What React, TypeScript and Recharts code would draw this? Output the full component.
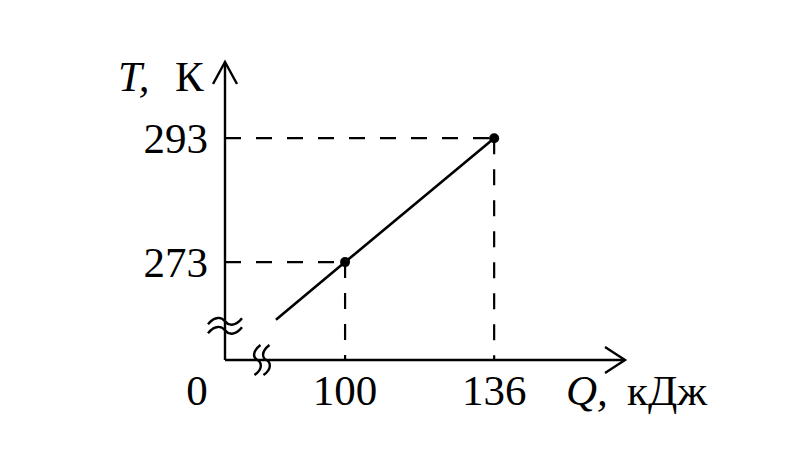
import { LineChart, Line, XAxis, YAxis, ReferenceLine, ReferenceDot } from 'recharts';

// Q (kJ) and T (K) values; first point is the start of the segment (no dot)
const qValues = [83.3, 100, 136];
const tValues = [263.7, 273, 293];
const xTicks = [100, 136];
const yTicks = [273, 293];

const xMin = 71;
const xMax = 167.6;
const yMin = 257.2;
const yMax = 305.3;

const data = qValues.map((q, i) => ({ q, t: tValues[i] }));

const FONT = '"Liberation Serif", "DejaVu Serif", serif';
const FS = 43;
const DASH = '16 15';

const XTick = ({ x, y, payload }: any) => (
  <text x={x} y={y + 45} textAnchor="middle" fontFamily={FONT} fontSize={FS} fill="#000">
    {payload.value}
  </text>
);

const YTick = ({ x, y, payload }: any) => (
  <text x={x - 17} y={y + 15} textAnchor="end" fontFamily={FONT} fontSize={FS} fill="#000">
    {payload.value}
  </text>
);

const Dot = ({ cx, cy, index }: any) =>
  index === 0 ? null : <circle key={index} cx={cx} cy={cy} r={5} fill="#000" />;

const YArrow = ({ cx, cy }: any) => (
  <g>
    <path d={`M ${cx - 12} ${cy + 22} L ${cx} ${cy} L ${cx + 12} ${cy + 22}`} fill="none" stroke="#000" strokeWidth={2.4} />
    <g fontFamily={FONT} fontSize={FS} fill="#000">
      <text x={cx - 107} y={cy + 29} fontStyle="italic">T,</text>
      <text x={cx - 50} y={cy + 29}>К</text>
    </g>
  </g>
);

const XArrow = ({ cx, cy }: any) => (
  <g>
    <path d={`M ${cx - 20} ${cy - 13} L ${cx} ${cy} L ${cx - 20} ${cy + 13}`} fill="none" stroke="#000" strokeWidth={2.4} />
    <g fontFamily={FONT} fontSize={FS} fill="#000">
      <text x={cx - 59} y={cy + 45} fontStyle="italic">Q,</text>
      <text x={cx + 2} y={cy + 45}>кДж</text>
    </g>
  </g>
);

const Origin = ({ cx, cy }: any) => (
  <text x={cx - 28} y={cy + 45} textAnchor="middle" fontFamily={FONT} fontSize={FS} fill="#000">
    0
  </text>
);

const YBreak = ({ cx, cy }: any) => (
  <g fill="none" stroke="#000" strokeWidth={2.4}>
    <path d={`M ${cx - 17} ${cy - 1} C ${cx - 10} ${cy - 10}, ${cx - 3} ${cy - 8}, ${cx} ${cy - 4} S ${cx + 10} ${cy + 2}, ${cx + 17} ${cy - 7}`} />
    <path d={`M ${cx - 17} ${cy + 8} C ${cx - 10} ${cy - 1}, ${cx - 3} ${cy + 1}, ${cx} ${cy + 5} S ${cx + 10} ${cy + 11}, ${cx + 17} ${cy + 2}`} />
  </g>
);

const XBreak = ({ cx, cy }: any) => (
  <g fill="none" stroke="#000" strokeWidth={2.4}>
    <path d={`M ${cx - 1} ${cy - 15} C ${cx - 10} ${cy - 8}, ${cx - 8} ${cy - 2}, ${cx - 4} ${cy} S ${cx + 2} ${cy + 9}, ${cx - 7} ${cy + 15}`} />
    <path d={`M ${cx + 8} ${cy - 15} C ${cx - 1} ${cy - 8}, ${cx + 1} ${cy - 2}, ${cx + 5} ${cy} S ${cx + 11} ${cy + 9}, ${cx + 2} ${cy + 15}`} />
  </g>
);

export default function App() {
  return (
    <div style={{ position: 'absolute', left: 0, top: 0, width: 800, height: 470, background: '#fff' }}>
      <LineChart width={800} height={470} data={data} margin={{ top: 62, right: 175, bottom: 80, left: 165 }}>
        <XAxis
          type="number"
          dataKey="q"
          domain={[xMin, xMax]}
          ticks={xTicks}
          height={30}
          tickSize={0}
          tickMargin={0}
          tick={<XTick />}
          axisLine={{ stroke: '#000', strokeWidth: 2.4 }}
          tickLine={false}
          allowDataOverflow
        />
        <YAxis
          type="number"
          dataKey="t"
          domain={[yMin, yMax]}
          ticks={yTicks}
          width={60}
          tickSize={0}
          tickMargin={0}
          tick={<YTick />}
          axisLine={{ stroke: '#000', strokeWidth: 2.4 }}
          tickLine={false}
          allowDataOverflow
        />
        <ReferenceLine segment={[{ x: xMin, y: 273 }, { x: 100, y: 273 }]} stroke="#000" strokeWidth={2.2} strokeDasharray={DASH} />
        <ReferenceLine segment={[{ x: 100, y: 273 }, { x: 100, y: yMin }]} stroke="#000" strokeWidth={2.2} strokeDasharray={DASH} />
        <ReferenceLine segment={[{ x: xMin, y: 293 }, { x: 136, y: 293 }]} stroke="#000" strokeWidth={2.2} strokeDasharray={DASH} />
        <ReferenceLine segment={[{ x: 136, y: 293 }, { x: 136, y: yMin }]} stroke="#000" strokeWidth={2.2} strokeDasharray={DASH} />
        <Line
          type="linear"
          dataKey="t"
          stroke="#000"
          strokeWidth={2.6}
          dot={<Dot />}
          activeDot={false}
          isAnimationActive={false}
        />
        <ReferenceDot x={xMin} y={yMax} shape={<YArrow />} ifOverflow="visible" />
        <ReferenceDot x={xMax} y={yMin} shape={<XArrow />} ifOverflow="visible" />
        <ReferenceDot x={xMin} y={yMin} shape={<Origin />} ifOverflow="visible" />
        <ReferenceDot x={xMin} y={262.8} shape={<YBreak />} ifOverflow="visible" />
        <ReferenceDot x={79.8} y={yMin} shape={<XBreak />} ifOverflow="visible" />
      </LineChart>
    </div>
  );
}
